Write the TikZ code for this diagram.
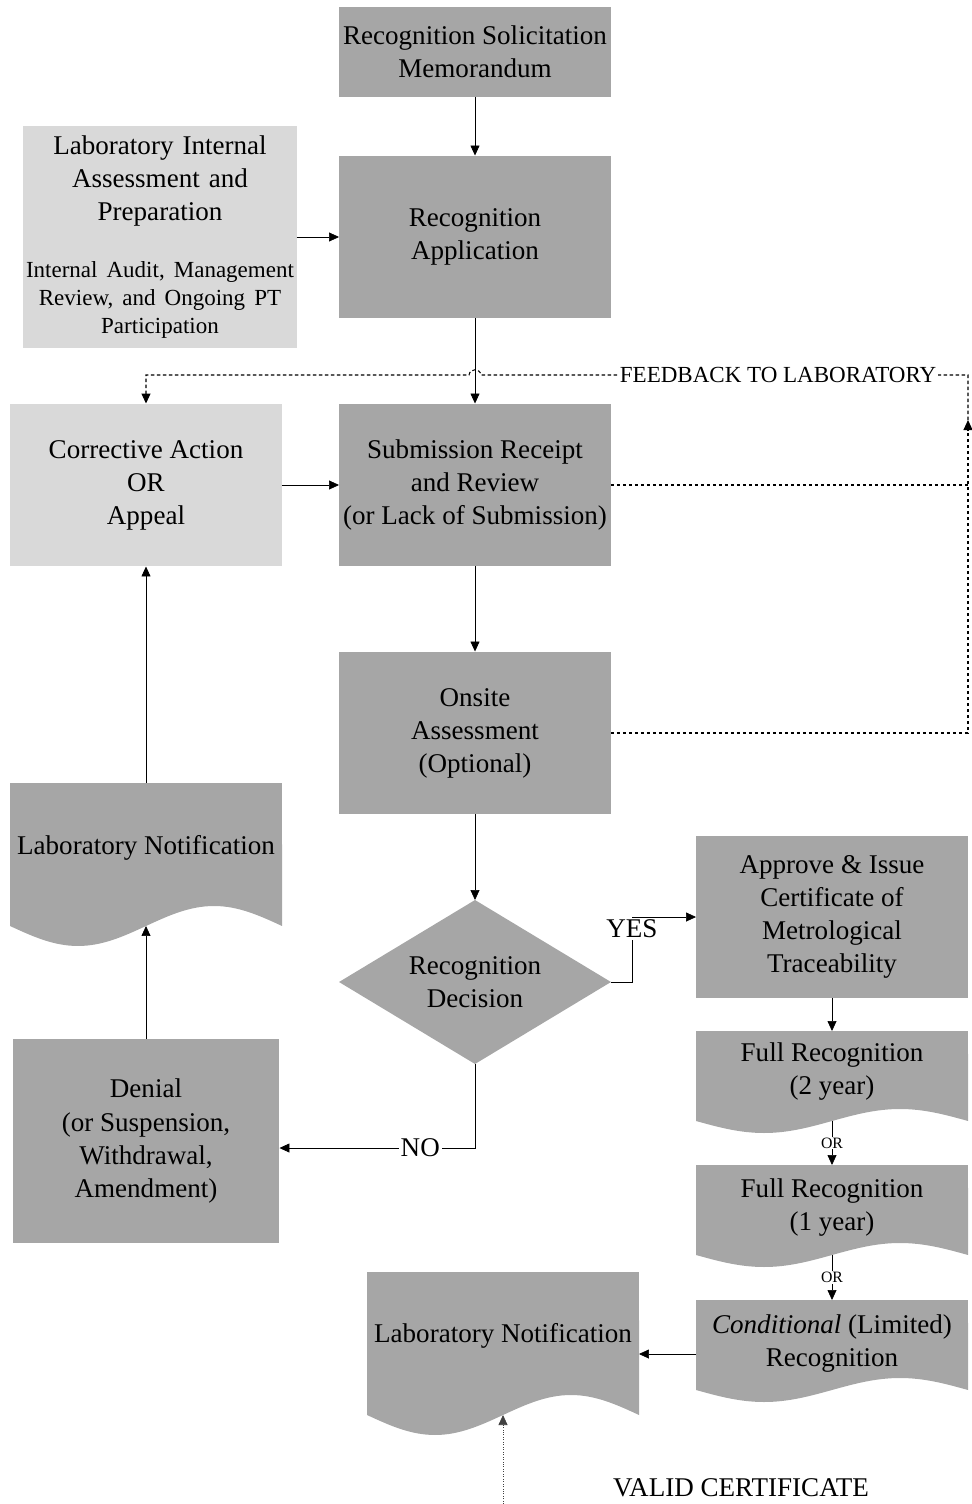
\documentclass[tikz,border=0pt]{standalone}
\usepackage{fontspec}
\setmainfont{Liberation Serif}
\usetikzlibrary{shapes.geometric}
\usetikzlibrary{arrows.meta}
\usetikzlibrary{calc}
\usetikzlibrary{backgrounds}

\definecolor{boxdark}{HTML}{A6A6A6}
\definecolor{boxlight}{HTML}{D9D9D9}
\newcommand{\mainfs}{\fontsize{15.4}{18.8}\selectfont}
\newcommand{\smallfs}{\fontsize{13.1}{15.9}\selectfont}
\newcommand{\orfs}{\fontsize{9}{10}\selectfont}
% wavy bottom of a document shape (amplitude in px)
\newcommand{\docwave}[2]{%
  \begin{pgfonlayer}{background}
    \fill[boxdark] (#1.north west) -- (#1.south west) sin ++(68,#2) cos ++(68,-#2)
      sin ++(68,-#2) cos ++(68,#2) -- (#1.north east) -- cycle;
  \end{pgfonlayer}}

\begin{document}
\begin{tikzpicture}[x=0.02cm,y=-0.02cm,
    >={Triangle[length=2mm,width=1.8mm]},
    line width=0.6pt,
    box/.style={fill=boxdark,minimum width=5.44cm,minimum height=3.26cm,inner sep=1pt,outer sep=0pt,align=center,font=\mainfs},
    lightbox/.style={box,fill=boxlight},
    decision/.style={diamond,fill=boxdark,minimum width=5.44cm,minimum height=3.28cm,aspect=1.66,inner sep=0pt,outer sep=0pt,align=center,font=\mainfs},
    docbig/.style={minimum width=5.44cm,minimum height=2.86cm,inner sep=0pt,outer sep=0pt},
    docsmall/.style={docbig,minimum height=1.8cm},
    doctext/.style={align=center,font=\mainfs,yshift=#1},
    feedback/.style={dash pattern=on 0.07cm off 0.05cm,line width=0.6pt},
    yesno/.style={fill=white,inner sep=1pt,font=\mainfs},
    ortag/.style={fill=white,inner sep=0.5pt,font=\orfs},
  ]
    \useasboundingbox (0,0) rectangle (972,1504);

    % main column
    \node[box,minimum height=1.8cm] (solicit) at (475,52) {Recognition Solicitation\\Memorandum};
    \node[lightbox,minimum height=4.44cm,text width=5.4cm] (internal) at (160,237)
        {Laboratory Internal\\Assessment and\\Preparation\par\vspace{17pt}%
         {\smallfs Internal Audit, Management\\Review, and Ongoing PT\\Participation\par}};
    \node[box] (application) at (475,237) {Recognition\\Application};
    \node[lightbox] (corrective) at (146,485) {Corrective Action\\OR\\Appeal};
    \node[box] (review) at (475,485) {Submission Receipt\\and Review\\(or Lack of Submission)};
    \node[box] (onsite) at (475,733) {Onsite\\Assessment\\(Optional)};
    \node[decision] (decision) at (475,982) {Recognition\\Decision};

    % left column
    \node[docbig,label={[doctext=0.14cm]center:Laboratory Notification}] (notifyL) at (146,854.5) {};
    \node[box,minimum width=5.34cm,minimum height=4.08cm] (denial) at (146,1141) {Denial\\(or Suspension,\\Withdrawal,\\Amendment)};

    % right column
    \node[box,minimum height=3.24cm] (approve) at (832,917) {Approve \& Issue\\Certificate of\\Metrological\\Traceability};
    \node[docsmall,label={[doctext=0.08cm]center:Full Recognition\\(2 year)}] (fulltwo) at (832,1076) {};
    \node[docsmall,label={[doctext=0.04cm]center:Full Recognition\\(1 year)}] (fullone) at (832,1210) {};
    \node[docsmall,label={[doctext=0.02cm]center:\textit{Conditional} (Limited)\\Recognition}] (conditional) at (832,1345) {};
    \node[docbig,label={[doctext=0.16cm]center:Laboratory Notification}] (notifyB) at (503,1343.5) {};
    \node[font=\mainfs] (valid) at (741,1488) {VALID CERTIFICATE};

    \docwave{notifyL}{20}
    \docwave{notifyB}{20}
    \docwave{fulltwo}{12}
    \docwave{fullone}{12}
    \docwave{conditional}{12}

    % connectors
    \draw[->] (solicit) -- (application);
    \draw[->] (internal) -- (application);
    \draw[->] (application) -- (review);
    \draw[->] (corrective) -- (review);
    \draw[->] (review) -- (onsite);
    \draw[->] (onsite) -- (decision);
    \draw[->] (decision.east) -- ++(21,0) |- node[pos=0.5,yesno,yshift=-0.24cm]{YES} (approve.west);
    \draw[->] (decision.south) |- node[pos=0.64,yesno]{NO} ([yshift=-0.14cm]denial.east);
    \draw[->] (denial) -- (notifyL.south);
    \draw[->] (notifyL) -- (corrective);
    \draw[->] (approve) -- (fulltwo);
    \draw[->] (fulltwo) -- node[ortag]{OR} (fullone);
    \draw[->] (fullone) -- node[ortag]{OR} (conditional);
    \draw[->] ([yshift=-0.18cm]conditional.west) -- ([yshift=-0.18cm]conditional.west -| notifyB.east);
    \coordinate (validin) at (503,1504);
    \draw[->,densely dotted,draw=darkgray] (validin) -- (notifyB.south);

    % feedback loop
    \coordinate (fbcorner) at (968,375);
    \coordinate (fbup) at (968,420);
    \draw[feedback] (review.east) -- (review.east -| fbup);
    \draw[feedback,->] (onsite.east) -| (fbup);
    \draw[feedback,->] (fbup) -- (fbcorner)
        -- node[pos=0.39,fill=white,font=\smallfs,inner sep=1pt]{FEEDBACK TO LABORATORY} (481,375)
        .. controls (480,368) and (470,368) .. (469,375) -| (corrective.north);
\end{tikzpicture}
\end{document}
